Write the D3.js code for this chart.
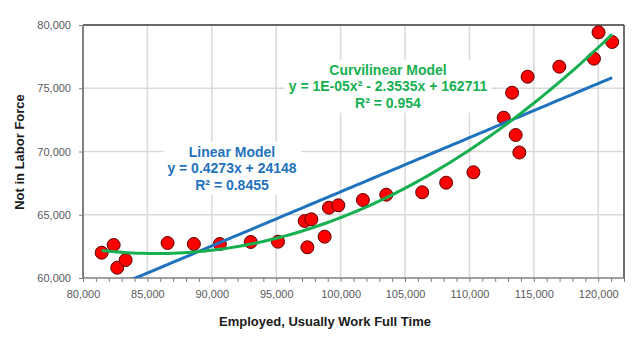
<!DOCTYPE html>
<html><head><meta charset="utf-8">
<script src="https://cdn.jsdelivr.net/npm/d3@7"></script>
<style>body{margin:0;background:#fff}svg{display:block}</style>
</head><body><svg id="c" width="640" height="344"></svg>
<script>
const employed = [81450,82380,82660,83310,86566,88605,90620,93023,95140,97419,97209,97729,98760,99093,99822,101729,103543,106333,108194,110310,112659,113310,113589,113876,114519,116977,119667,120023,121085];
const notInLF  = [62000,62609,60814,61423,62767,62688,62688,62846,62870,62427,64506,64640,63265,65557,65747,66166,66585,66775,67534,68356,72672,74648,71304,69921,75913,76704,77336,79423,78656];
const xTicks = [80000,85000,90000,95000,100000,105000,110000,115000,120000];
const yTicks = [60000,65000,70000,75000,80000];
const linearLabel = ["Linear Model","y = 0.4273x + 24148","R² = 0.8455"];
const curveLabel = ["Curvilinear Model","y = 1E-05x² - 2.3535x + 162711","R² = 0.954"];

const svg = d3.select("#c");
const L=83,R=624,T=25,B=278;
const x = d3.scaleLinear().domain([80000,122000]).range([L,R]);
const y = d3.scaleLinear().domain([60000,80000]).range([B,T]);

// gridlines
svg.append("g").selectAll("line").data(xTicks.slice(1)).join("line")
  .attr("x1",d=>x(d)).attr("x2",d=>x(d)).attr("y1",T).attr("y2",B)
  .attr("stroke","#d9d9d9").attr("stroke-width",1.5);
svg.append("g").selectAll("line").data(yTicks.slice(1)).join("line")
  .attr("x1",L).attr("x2",R).attr("y1",d=>y(d)).attr("y2",d=>y(d))
  .attr("stroke","#d9d9d9").attr("stroke-width",1.5);

// regression fits
const n = employed.length;
const xm = d3.mean(employed), ym = d3.mean(notInLF);
let sxx=0,sxy=0; for(let i=0;i<n;i++){sxx+=(employed[i]-xm)**2;sxy+=(employed[i]-xm)*(notInLF[i]-ym);}
const b1=sxy/sxx, b0=ym-b1*xm;
function solve3(A,b){A=A.map((r,i)=>[...r,b[i]]);for(let i=0;i<3;i++){let p=i;for(let k=i+1;k<3;k++)if(Math.abs(A[k][i])>Math.abs(A[p][i]))p=k;[A[i],A[p]]=[A[p],A[i]];for(let k=i+1;k<3;k++){const f=A[k][i]/A[i][i];for(let j=i;j<4;j++)A[k][j]-=f*A[i][j];}}const s=[0,0,0];for(let i=2;i>=0;i--){let v=A[i][3];for(let j=i+1;j<3;j++)v-=A[i][j]*s[j];s[i]=v/A[i][i];}return s;}
const S=[0,0,0,0,0],Ty=[0,0,0];
for(let i=0;i<n;i++){const u=(employed[i]-xm)/1000;for(let k=0;k<5;k++)S[k]+=u**k;for(let k=0;k<3;k++)Ty[k]+=notInLF[i]*u**k;}
const q=solve3([[S[0],S[1],S[2]],[S[1],S[2],S[3]],[S[2],S[3],S[4]]],Ty);
const quad = v=>{const u=(v-xm)/1000;return q[0]+q[1]*u+q[2]*u*u;};

const xmin=d3.min(employed), xmax=d3.max(employed);
const xs = d3.range(0,101).map(i=>xmin+(xmax-xmin)*i/100);

// axes
const yAxis = d3.axisLeft(y).tickValues(yTicks).tickSize(4).tickFormat(d3.format(","));
const gy = svg.append("g").attr("transform",`translate(${L},0)`).call(yAxis);
gy.select(".domain").remove();
gy.selectAll(".tick line").attr("stroke","#808080");
gy.selectAll("text").attr("fill","#595959").attr("font-family","Liberation Sans, Arial, sans-serif").attr("font-size",11).attr("dx",-5);

const minorTicks = d3.range(80000,122001,1000);
const xAxis = d3.axisBottom(x).tickValues(minorTicks).tickSize(4).tickFormat(d=>xTicks.includes(d)?d3.format(",")(d):"");
const gx = svg.append("g").attr("transform",`translate(0,${B})`).call(xAxis);
gx.select(".domain").remove();
gx.selectAll(".tick line").attr("stroke","#808080");
gx.selectAll("text").attr("fill","#595959").attr("font-family","Liberation Sans, Arial, sans-serif").attr("font-size",11).attr("dy",13);

// plot border
svg.append("line").attr("x1",L).attr("x2",R).attr("y1",T).attr("y2",T).attr("stroke","#404040").attr("stroke-width",1.5);
svg.append("line").attr("x1",R).attr("x2",R).attr("y1",T).attr("y2",B).attr("stroke","#404040").attr("stroke-width",1.5);
svg.append("line").attr("x1",L).attr("x2",R).attr("y1",B).attr("y2",B).attr("stroke","#808080").attr("stroke-width",1.5);
svg.append("line").attr("x1",L).attr("x2",L).attr("y1",T).attr("y2",B).attr("stroke","#808080").attr("stroke-width",2);

// labels with white background
function label(lines,cx,cy,color){
  const g=svg.append("g");
  const r=g.append("rect").attr("fill","#fff");
  g.selectAll("text").data(lines).join("text")
    .attr("x",cx).attr("y",(d,i)=>cy+i*16.5).attr("text-anchor","middle").attr("dominant-baseline","middle")
    .attr("font-family","Liberation Sans, Arial, sans-serif").attr("font-weight","bold").attr("font-size",14)
    .attr("fill",color).text(d=>d);
  const bb=g.node().getBBox();
  r.attr("x",bb.x-4).attr("y",bb.y-2).attr("width",bb.width+8).attr("height",bb.height+4);
}
label(linearLabel,232,153,"#1f72bd");
label(curveLabel,388,71,"#16b050");

// points
svg.append("g").selectAll("circle").data(employed.map((d,i)=>[d,notInLF[i]])).join("circle")
  .attr("cx",d=>x(d[0])).attr("cy",d=>y(d[1])).attr("r",6.5)
  .attr("fill","#ff0000").attr("stroke","#5a0000").attr("stroke-width",1);

// trendlines
svg.append("clipPath").attr("id","cp").append("rect").attr("x",L).attr("y",T).attr("width",R-L).attr("height",B-T);
const line = d3.line().x(d=>x(d[0])).y(d=>y(d[1]));
svg.append("path").attr("clip-path","url(#cp)").attr("d",line(xs.map(v=>[v,b0+b1*v])))
  .attr("fill","none").attr("stroke","#1f72bd").attr("stroke-width",3);
svg.append("path").attr("clip-path","url(#cp)").attr("d",line(xs.map(v=>[v,quad(v)])))
  .attr("fill","none").attr("stroke","#16b050").attr("stroke-width",3);

// axis titles
svg.append("text").attr("x",325).attr("y",326).attr("text-anchor","middle")
  .attr("font-family","Liberation Sans, Arial, sans-serif").attr("font-weight","bold").attr("font-size",13)
  .attr("fill","#1a1a1a").text("Employed, Usually Work Full Time");
svg.append("text").attr("transform","translate(24,152) rotate(-90)").attr("text-anchor","middle")
  .attr("font-family","Liberation Sans, Arial, sans-serif").attr("font-weight","bold").attr("font-size",13)
  .attr("fill","#1a1a1a").text("Not in Labor Force");
</script></body></html>
